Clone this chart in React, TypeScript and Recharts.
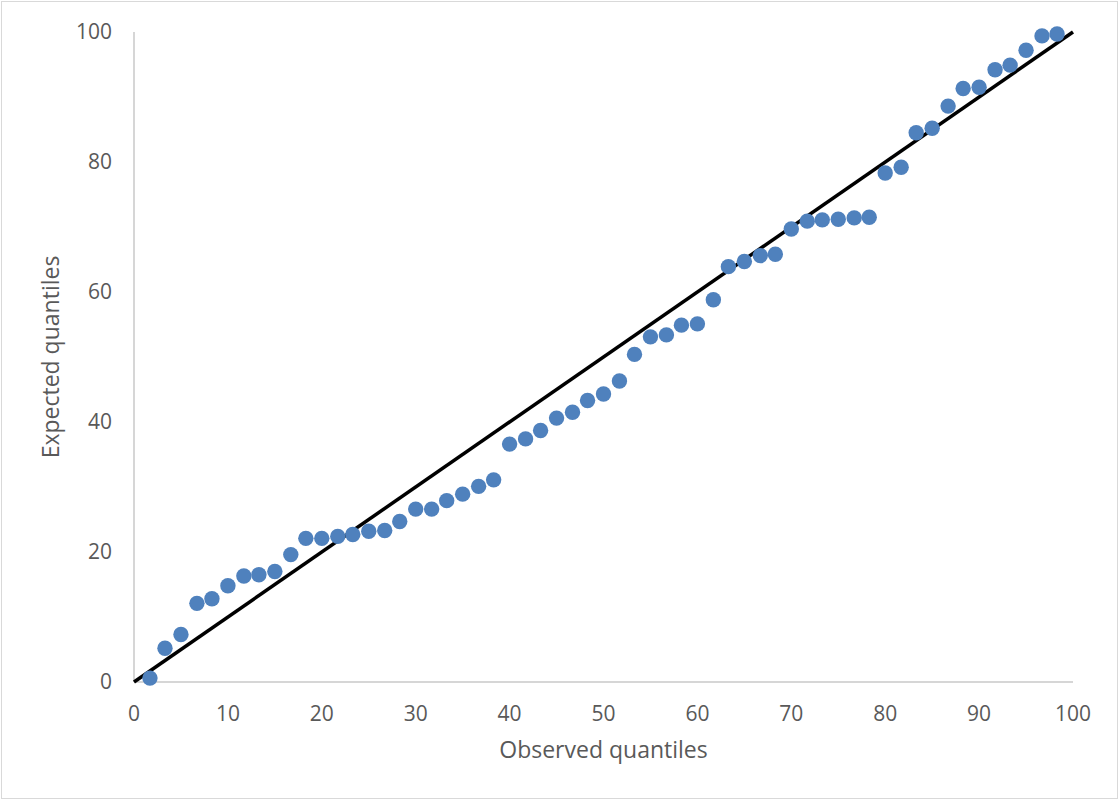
// Q-Q plot: observed vs expected quantiles, with the y = x reference line.

import { ScatterChart, Scatter, XAxis, YAxis, Label } from "recharts";

const OBSERVED = [
  1.7, 3.3, 5, 6.7, 8.3, 10, 11.7, 13.3, 15, 16.7, 18.3, 20, 21.7, 23.3, 25,
  26.7, 28.3, 30, 31.7, 33.3, 35, 36.7, 38.3, 40, 41.7, 43.3, 45, 46.7, 48.3,
  50, 51.7, 53.3, 55, 56.7, 58.3, 60, 61.7, 63.3, 65, 66.7, 68.3, 70, 71.7,
  73.3, 75, 76.7, 78.3, 80, 81.7, 83.3, 85, 86.7, 88.3, 90, 91.7, 93.3, 95,
  96.7, 98.3,
];

const EXPECTED = [
  0.6, 5.2, 7.3, 12.1, 12.8, 14.8, 16.3, 16.5, 17.0, 19.6, 22.1, 22.1, 22.4,
  22.7, 23.2, 23.3, 24.7, 26.6, 26.6, 27.9, 28.9, 30.1, 31.1, 36.6, 37.4, 38.7,
  40.6, 41.5, 43.3, 44.3, 46.3, 50.4, 53.1, 53.4, 54.9, 55.1, 58.8, 63.9, 64.7,
  65.6, 65.8, 69.7, 70.9, 71.1, 71.2, 71.4, 71.5, 78.3, 79.2, 84.5, 85.2, 88.6,
  91.3, 91.5, 94.2, 94.9, 97.2, 99.4, 99.7,
];

const LINE_X = [0, 100];
const LINE_Y = [0, 100];

const X_TICKS = [0, 10, 20, 30, 40, 50, 60, 70, 80, 90, 100];
const Y_TICKS = [0, 20, 40, 60, 80, 100];

const points = OBSERVED.map((x, i) => ({ x, y: EXPECTED[i] }));
const diagonal = LINE_X.map((x, i) => ({ x, y: LINE_Y[i] }));

const FONT = "'Open Sans', sans-serif";
const TEXT_GRAY = "#595959";
const AXIS_GRAY = "#C8C8C8";

const tickStyle = { fill: TEXT_GRAY, fontSize: 21, fontFamily: FONT };

export default function App() {
  return (
    <div style={{ position: "absolute", left: 0, top: 0, width: 1120, height: 801, background: "#fff" }}>
      <div
        style={{
          position: "absolute",
          left: 1,
          top: 1,
          width: 1117,
          height: 798,
          border: "1px solid #D9D9D9",
          boxSizing: "border-box",
        }}
      />
      <div style={{ position: "absolute", left: 0, top: 0 }}>
        <ScatterChart
          width={1120}
          height={801}
          margin={{ top: 32, right: 47, bottom: 0, left: 0 }}
        >
          <XAxis
            type="number"
            dataKey="x"
            domain={[0, 100]}
            ticks={X_TICKS}
            height={119}
            tickLine={false}
            tickSize={0}
            tickMargin={24}
            axisLine={{ stroke: AXIS_GRAY, strokeWidth: 1.5 }}
            tick={tickStyle}
          >
            <Label
              value="Observed quantiles"
              position="insideBottom"
              offset={43}
              style={{ fill: TEXT_GRAY, fontSize: 23, fontFamily: FONT }}
            />
          </XAxis>
          <YAxis
            type="number"
            dataKey="y"
            domain={[0, 100]}
            ticks={Y_TICKS}
            width={134}
            tickLine={false}
            tickSize={0}
            tickMargin={22}
            axisLine={{ stroke: AXIS_GRAY, strokeWidth: 1.5 }}
            tick={tickStyle}
          >
            <Label
              value="Expected quantiles"
              position="insideLeft"
              angle={-90}
              offset={51}
              style={{ fill: TEXT_GRAY, fontSize: 23, fontFamily: FONT, textAnchor: "middle" }}
            />
          </YAxis>
          <Scatter
            data={diagonal}
            line={{ stroke: "#000", strokeWidth: 3.5 }}
            shape={() => null}
            isAnimationActive={false}
          />
          <Scatter
            data={points}
            fill="#4F81BD"
            shape={(p: any) => <circle cx={p.cx} cy={p.cy} r={7.7} fill="#4F81BD" />}
            isAnimationActive={false}
          />
        </ScatterChart>
      </div>
    </div>
  );
}
